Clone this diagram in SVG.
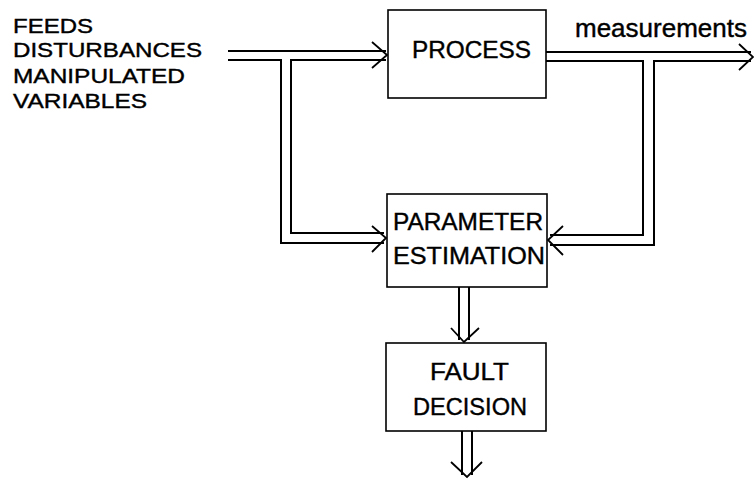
<svg xmlns="http://www.w3.org/2000/svg" width="754" height="479" viewBox="0 0 754 479">
<style>
text{font-family:"Liberation Sans",Arial,sans-serif;font-size:24px;fill:#000;stroke:#000;stroke-width:0.4}
.lbl{font-size:21px}
.box{fill:#fff;stroke:#000;stroke-width:1.6}
.ln{fill:none;stroke:#000;stroke-width:2;stroke-linejoin:miter}
.ah{fill:none;stroke:#000;stroke-width:1.8;stroke-linejoin:miter}
</style>
<rect width="754" height="479" fill="#fff"/>
<g id="inputs-label">
<text class="lbl" x="13" y="33" textLength="80" lengthAdjust="spacingAndGlyphs">FEEDS</text>
<text class="lbl" x="13" y="57" textLength="189" lengthAdjust="spacingAndGlyphs">DISTURBANCES</text>
<text class="lbl" x="13" y="83" textLength="172" lengthAdjust="spacingAndGlyphs">MANIPULATED</text>
<text class="lbl" x="13" y="108" textLength="134" lengthAdjust="spacingAndGlyphs">VARIABLES</text>
</g>
<g id="connectors">
<path class="ln" d="M228,51 H386"/>
<path class="ln" d="M228,60 H281 V243 H384"/>
<path class="ln" d="M386,60 H291 V233 H384"/>
<path class="ah" d="M372,42 L387,55 L372,68"/>
<path class="ah" d="M372,226 L386,238 L372,252"/>
<path class="ln" d="M546,52 H751"/>
<path class="ln" d="M546,61 H643 V235 H550"/>
<path class="ln" d="M751,61 H654 V245 H550"/>
<path class="ah" d="M739,44 L753,57 L739,70"/>
<path class="ah" d="M563,226 L548,240 L563,255"/>
<path class="ln" d="M459,287 V340"/>
<path class="ln" d="M469,287 V340"/>
<path class="ah" d="M451,328 L464,342 L479,328"/>
<path class="ln" d="M462,431 V475"/>
<path class="ln" d="M472,431 V475"/>
<path class="ah" d="M451,462 L467,477 L482,462"/>
</g>
<g id="measurements-label">
<text x="575" y="37" textLength="172" lengthAdjust="spacingAndGlyphs" style="font-size:25px">measurements</text>
</g>
<g id="process">
<rect class="box" x="388" y="10" width="158" height="88"/>
<text x="412" y="58" textLength="119" lengthAdjust="spacingAndGlyphs">PROCESS</text>
</g>
<g id="parameter-estimation">
<rect class="box" x="387" y="194" width="160" height="93"/>
<text x="393" y="230" textLength="150" lengthAdjust="spacingAndGlyphs">PARAMETER</text>
<text x="393" y="264" textLength="152" lengthAdjust="spacingAndGlyphs">ESTIMATION</text>
</g>
<g id="fault-decision">
<rect class="box" x="386" y="343" width="160" height="88"/>
<text x="430" y="380" textLength="79" lengthAdjust="spacingAndGlyphs">FAULT</text>
<text x="413" y="415" textLength="114" lengthAdjust="spacingAndGlyphs">DECISION</text>
</g>
</svg>
